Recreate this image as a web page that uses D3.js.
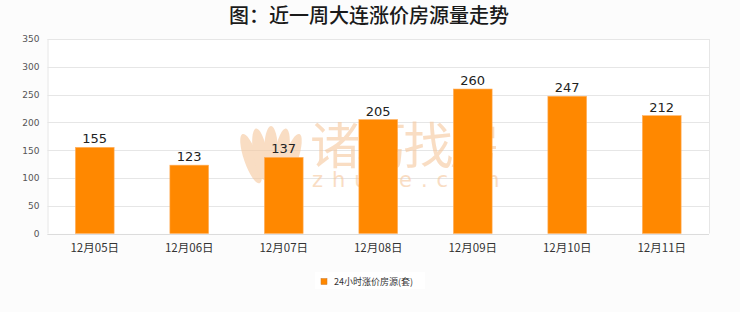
<!DOCTYPE html>
<html><head><meta charset="utf-8">
<script src="https://cdn.jsdelivr.net/npm/d3@7/dist/d3.min.js"></script>
<style>
html,body{margin:0;padding:0;background:#fcfcfc;}
svg{display:block;}
</style></head>
<body>
<svg id="c" width="740" height="312"></svg>
<script>
const title = "图：近一周大连涨价房源量走势";
const categories = ["12月05日","12月06日","12月07日","12月08日","12月09日","12月10日","12月11日"];
const values = [155,123,137,205,260,247,212];
const yTicks = [0,50,100,150,200,250,300,350];
const seriesName = "24小时涨价房源(套)";

const W=740,H=312;
const m={left:47.5,right:31,top:39,bottom:78.5};
const svg=d3.select("#c");
const cjk='"Noto Sans CJK SC","DejaVu Sans",sans-serif';

svg.append("rect").attr("width",W).attr("height",H).attr("fill","#fcfcfc");
svg.append("rect").attr("x",m.left).attr("y",m.top).attr("width",W-m.left-m.right).attr("height",H-m.top-m.bottom).attr("fill","#ffffff");

const x=d3.scaleBand().domain(categories).range([m.left,W-m.right]).paddingInner(0.59).paddingOuter(0.295);
const y=d3.scaleLinear().domain([0,350]).range([H-m.bottom,m.top]);

// grid
svg.append("g").selectAll("line").data(yTicks).join("line")
  .attr("x1",m.left).attr("x2",W-m.right)
  .attr("y1",d=>Math.round(y(d))+0.5).attr("y2",d=>Math.round(y(d))+0.5)
  .attr("stroke","#e6e6e6").attr("stroke-width",1);
svg.append("line").attr("x1",W-m.right+0.5).attr("x2",W-m.right+0.5).attr("y1",m.top).attr("y2",y(0)).attr("stroke","#e6e6e6");

// watermark
const wm=svg.append("g").attr("opacity",0.6);
const petals=[[-16,10],[-8,6],[0,4],[8,6],[16,10]];
petals.forEach(([dx,dy])=>{
  wm.append("ellipse").attr("cx",271+dx).attr("cy",148+dy).attr("rx",7).attr("ry",26)
    .attr("transform",`rotate(${dx*1.2},${271+dx},${170})`).attr("fill","#f6c79c");
});
wm.append("text").attr("x",310).attr("y",164).attr("font-size",50).attr("font-family",cjk)
  .attr("fill","#f6c79c").attr("textLength",190).text("诸葛找房");
wm.append("text").attr("x",312).attr("y",187).attr("font-size",21).attr("font-family",'"DejaVu Sans",sans-serif')
  .attr("fill","#f6c79c").attr("letter-spacing",9).text("zhuge.com");

// bars
svg.append("g").selectAll("rect").data(values).join("rect")
  .attr("x",(d,i)=>x(categories[i])).attr("width",x.bandwidth())
  .attr("y",d=>y(d)).attr("height",d=>y(0)-y(d))
  .attr("fill","#ff8800").attr("stroke","#ffb060").attr("stroke-width",0.6);

// value labels
svg.append("g").selectAll("text").data(values).join("text")
  .attr("x",(d,i)=>x(categories[i])+x.bandwidth()/2).attr("y",d=>y(d)-4)
  .attr("text-anchor","middle").attr("font-size",13).attr("font-family",'"DejaVu Sans",sans-serif')
  .attr("fill","#222").text(d=>d);

// axes lines
svg.append("line").attr("x1",m.left).attr("x2",W-m.right).attr("y1",Math.round(y(0))+0.5).attr("y2",Math.round(y(0))+0.5).attr("stroke","#dcdcdc");
svg.append("line").attr("x1",m.left+0.5).attr("x2",m.left+0.5).attr("y1",m.top).attr("y2",y(0)).attr("stroke","#e6e6e6");

// y axis
const ya=svg.append("g").attr("transform",`translate(${m.left},0)`)
  .call(d3.axisLeft(y).tickValues(yTicks).tickSize(0).tickPadding(8));
ya.select(".domain").remove();
ya.selectAll("text").attr("font-size",9).attr("font-family",'"DejaVu Sans",sans-serif').attr("fill","#555");

// x axis
const xa=svg.append("g").attr("transform",`translate(0,${y(0)})`)
  .call(d3.axisBottom(x).tickSize(0).tickPadding(10));
xa.select(".domain").remove();
xa.selectAll("text").attr("font-size",11.5).attr("font-family",cjk).attr("fill","#333");

// title
svg.append("text").attr("x",369).attr("y",23).attr("text-anchor","middle")
  .attr("font-size",20).attr("font-weight",500).attr("font-family",cjk).attr("fill","#1a1a1a").text(title);

// legend
const lg=svg.append("g");
lg.append("rect").attr("x",315).attr("y",272).attr("width",110).attr("height",17).attr("fill","#fff");
lg.append("rect").attr("x",321).attr("y",278.5).attr("width",6).attr("height",6).attr("fill","#ff8800").attr("stroke","#c87a30").attr("stroke-width",0.5);
lg.append("text").attr("x",334).attr("y",285).attr("font-size",9).attr("font-family",cjk).attr("fill","#333").text(seriesName);
</script>
</body></html>
